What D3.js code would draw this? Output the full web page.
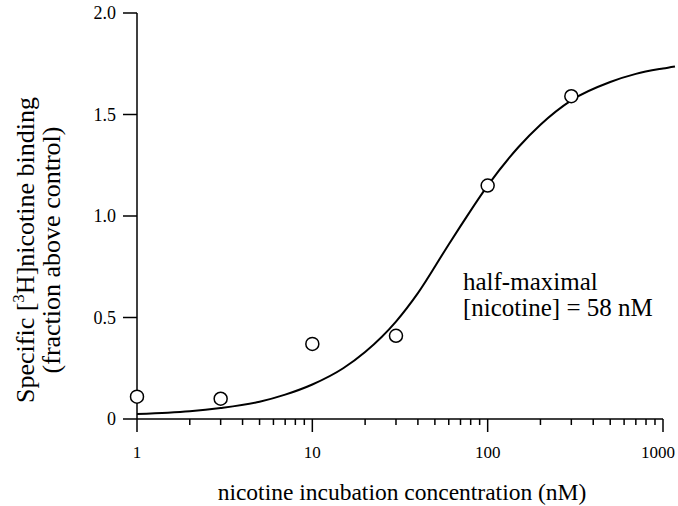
<!DOCTYPE html>
<html>
<head>
<meta charset="utf-8">
<script src="https://cdn.jsdelivr.net/npm/d3@7"></script>
<style>
  html, body { margin: 0; padding: 0; background: #fff; }
  svg { display: block; }
  text { font-family: "Liberation Serif", "DejaVu Serif", serif; fill: #000; }
</style>
</head>
<body>
<svg id="chart" width="678" height="506"></svg>
<script>
// Measured data points (nicotine concentration, nM)
const pointConc = [1, 3, 10, 30, 100, 300];
const pointBinding = [0.11, 0.10, 0.37, 0.41, 1.15, 1.59];

// Fitted curve
const curveConc = [1, 1.5, 2, 3, 5, 7, 10, 15, 20, 30, 40, 58, 70, 100, 150, 200, 300, 500, 700, 1000, 1170];
const curveBinding = [0.025, 0.031, 0.038, 0.054, 0.085, 0.12, 0.17, 0.25, 0.33, 0.48, 0.62, 0.84, 0.95, 1.15, 1.34, 1.45, 1.57, 1.66, 1.70, 1.727, 1.737];

const xMajorTicks = [1, 10, 100, 1000];
const xTickLabels = ["1", "10", "100", "1000"];
const yTicks = [0, 0.5, 1.0, 1.5, 2.0];
const yTickLabels = ["0", "0.5", "1.0", "1.5", "2.0"];

const svg = d3.select("#chart");

const x = d3.scaleLog().domain([1, 1000]).range([137, 663]);
const y = d3.scaleLinear().domain([0, 2]).range([419, 13]);

// minor ticks 2..9 per decade
const xMinor = [];
[1, 10, 100].forEach(d => { for (let k = 2; k <= 9; k++) xMinor.push(d * k); });

// X axis
const xAxisG = svg.append("g").attr("transform", `translate(0,${y(0)})`);
xAxisG.append("line").attr("x1", x(1)).attr("x2", x(1000)).attr("y1", 0).attr("y2", 0)
  .attr("stroke", "#000").attr("stroke-width", 1.5);
xAxisG.selectAll("line.minor").data(xMinor).enter().append("line")
  .attr("class", "minor")
  .attr("x1", d => x(d)).attr("x2", d => x(d))
  .attr("y1", 0).attr("y2", 6)
  .attr("stroke", "#000").attr("stroke-width", 1.5);
xAxisG.selectAll("line.major").data(xMajorTicks).enter().append("line")
  .attr("class", "major")
  .attr("x1", d => x(d)).attr("x2", d => x(d))
  .attr("y1", 0).attr("y2", 13)
  .attr("stroke", "#000").attr("stroke-width", 1.5);
xAxisG.selectAll("text").data(xMajorTicks).enter().append("text")
  .attr("x", d => x(d)).attr("y", 39)
  .attr("dx", (d, i) => i === xMajorTicks.length - 1 ? -5 : 0)
  .attr("text-anchor", "middle")
  .attr("font-size", 17)
  .text((d, i) => xTickLabels[i]);

// Y axis
const yAxisG = svg.append("g").attr("transform", `translate(${x(1)},0)`);
yAxisG.append("line").attr("x1", 0).attr("x2", 0).attr("y1", y(2)).attr("y2", y(0))
  .attr("stroke", "#000").attr("stroke-width", 1.5);
yAxisG.selectAll("line.tick").data(yTicks).enter().append("line")
  .attr("class", "tick")
  .attr("x1", -14).attr("x2", 0)
  .attr("y1", d => y(d)).attr("y2", d => y(d))
  .attr("stroke", "#000").attr("stroke-width", 1.5);
yAxisG.selectAll("text").data(yTicks).enter().append("text")
  .attr("x", -21).attr("y", d => y(d) + 6)
  .attr("text-anchor", "end")
  .attr("font-size", 18)
  .text((d, i) => yTickLabels[i]);

// Curve
const line = d3.line()
  .x((d, i) => x(curveConc[i]))
  .y((d, i) => y(curveBinding[i]))
  .curve(d3.curveMonotoneX);
svg.append("path")
  .datum(curveBinding)
  .attr("d", line)
  .attr("fill", "none")
  .attr("stroke", "#000")
  .attr("stroke-width", 2);

// Points
svg.selectAll("circle.pt").data(pointConc).enter().append("circle")
  .attr("class", "pt")
  .attr("cx", d => x(d))
  .attr("cy", (d, i) => y(pointBinding[i]))
  .attr("r", 6.5)
  .attr("fill", "#fff")
  .attr("stroke", "#000")
  .attr("stroke-width", 1.5);

// Annotation
const ann = svg.append("text").attr("font-size", 25);
ann.append("tspan").attr("x", 463).attr("y", 290).text("half-maximal");
ann.append("tspan").attr("x", 463).attr("y", 316).text("[nicotine] = 58 nM");

// X axis title
svg.append("text")
  .attr("x", 402).attr("y", 500)
  .attr("text-anchor", "middle")
  .attr("font-size", 23.5)
  .text("nicotine incubation concentration (nM)");

// Y axis title (two lines, rotated)
const yt = svg.append("text")
  .attr("transform", "translate(34,250) rotate(-90)")
  .attr("text-anchor", "middle")
  .attr("font-size", 26);
yt.append("tspan").text("Specific [");
yt.append("tspan").attr("font-size", 17).attr("dy", -10).text("3");
yt.append("tspan").attr("dy", 10).text("H]nicotine binding");
svg.append("text")
  .attr("transform", "translate(60,250) rotate(-90)")
  .attr("text-anchor", "middle")
  .attr("font-size", 26)
  .text("(fraction above control)");
</script>
</body>
</html>
